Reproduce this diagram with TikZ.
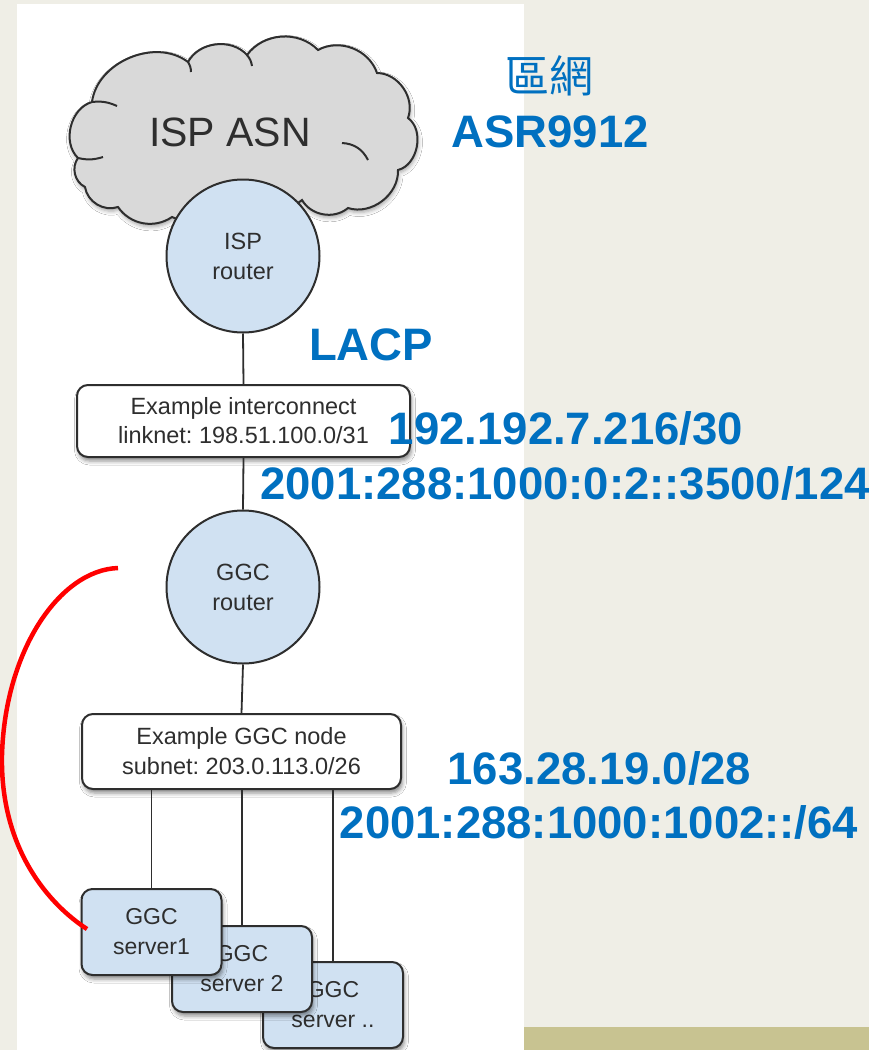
\documentclass[tikz,border=0pt]{standalone}
\usepackage{fontspec}
\setmainfont{Liberation Sans}
\newfontfamily\cjk{Noto Sans CJK TC}
\usetikzlibrary{shadows.blur}
\definecolor{bg}{HTML}{EFEEE6}
\definecolor{khaki}{HTML}{C8C391}
\definecolor{blu}{HTML}{0070C0}
\definecolor{nodefill}{HTML}{D0E1F2}
\definecolor{cloudfill}{HTML}{D9D9D9}
\definecolor{edge}{HTML}{2E2E2E}
\frenchspacing
\begin{document}
\begin{tikzpicture}[x=1pt,y=-1pt,
  router/.style={circle, draw=edge, line width=2pt, fill=nodefill, minimum size=153pt, inner sep=0pt, align=center, font=\fontsize{23.5}{30}\selectfont, text=edge},
  infobox/.style={rounded corners=11pt, draw=edge, line width=2pt, fill=white, align=center, inner sep=0pt, font=\fontsize{23.5}{29}\selectfont, text=edge, blur shadow={shadow xshift=1.5pt, shadow yshift=-4pt, shadow opacity=45, shadow blur radius=4pt}},
  server/.style={infobox, fill=nodefill, minimum width=140pt, minimum height=86pt, font=\fontsize{23}{30}\selectfont},
  wire/.style={draw=edge, line width=1.8pt},
  cloudline/.style={draw=edge, line width=2pt},
  bluelabel/.style={text=blu, font=\fontsize{45.5}{50}\selectfont\bfseries, inner sep=0pt},
]
\useasboundingbox (0,0) rectangle (869,1050);
% background
\fill[bg] (0,0) rectangle (869,1050);
\fill[khaki] (524,1027) rectangle (869,1050);
\fill[white] (17,4) rectangle (524,1050);

% cloud
\coordinate (ca) at (78,158);
\coordinate (cb) at (92,102);
\coordinate (cc) at (188,62);
\coordinate (cd) at (247,55);
\coordinate (ce) at (318,50);
\coordinate (cf) at (377,73);
\coordinate (cg) at (408,118);
\coordinate (ch) at (398,170);
\coordinate (cj) at (348,208);
\coordinate (ck) at (302,200);
\coordinate (cl) at (172,217);
\coordinate (cm) at (118,207);
\coordinate (cn) at (85,187);
\path[cloudline, fill=cloudfill, blur shadow={shadow xshift=1pt, shadow yshift=-3pt, shadow opacity=35, shadow blur radius=4pt}]
  (ca) to[bend left=60] (cb) to[bend left=60] (cc) to[bend left=55] (cd)
  to[bend left=50] (ce) to[bend left=50] (cf) to[bend left=55] (cg)
  to[bend left=65] (ch) to[bend left=55] (cj) to[bend left=50] (ck)
  to[bend left=30] (cl) to[bend left=45] (cm) to[bend left=50] (cn)
  to[bend left=50] (ca) -- cycle;
\draw[cloudline] (ca) to[bend right=15] (103,157);
\draw[cloudline] (cb) to[bend left=15] (117,106);
\draw[cloudline] (cc) to[bend left=15] (191,72);
\draw[cloudline] (cd) to[bend left=15] (252,66);
\draw[cloudline] (342,143) to[bend left=30] (368,160);
\node[text=edge, font=\fontsize{41}{45}\selectfont, inner sep=0pt] (asn) at (230,132) {ISP ASN};

% nodes
\node[router] (isp) at (243,256) {ISP\\router};
\node[infobox, minimum width=333pt, minimum height=72pt] (ic) at (243.5,421) {Example interconnect\\linknet: 198.51.100.0/31};
\node[router] (ggc) at (243,587) {GGC\\router};
\node[infobox, minimum width=319pt, minimum height=75pt, font=\fontsize{23.5}{30}\selectfont] (gn) at (241.5,751.5) {Example GGC node\\subnet: 203.0.113.0/26};
\node[server] (s3) at (333,1005) {GGC\\server ..};
\node[server] (s2) at (242,969) {GGC\\server 2};
\node[server] (s1) at (151.5,932) {GGC\\server1};

% connectors
\draw[wire] (isp.south) -- (ic.north);
\draw[wire] (ic.south) -- (ggc.north);
\draw[wire] (ggc.south) -- (gn.north);
\draw[wire] (gn.south -| s1.north) -- (s1.north);
\draw[wire] (gn.south -| s2.north) -- (s2.north);
\draw[wire] (gn.south -| s3.north) -- (s3.north);

% red arc
\coordinate (arcstart) at (118,568);
\coordinate (arcend) at (87,929);
\draw[red, line width=4.5pt] (arcstart) .. controls (60,570) and (5,650) .. (2,755) .. controls (0,850) and (50,905) .. (arcend);

% blue labels
\node[text=blu, font=\cjk\fontsize{44}{48}\selectfont, inner sep=0pt] (quwang) at (549,76) {區網};
\node[bluelabel] (asr) at (550,132) {ASR9912};
\node[bluelabel] (lacp) at (371,345) {LACP};
\node[bluelabel] (ipv4a) at (566,428) {192.192.7.216/30};
\node[bluelabel] (ipv6a) at (565,483) {2001:288:1000:0:2::3500/124};
\node[bluelabel] (ipv4b) at (599.5,768) {163.28.19.0/28};
\node[bluelabel] (ipv6b) at (599,822) {2001:288:1000:1002::/64};
\end{tikzpicture}
\end{document}
